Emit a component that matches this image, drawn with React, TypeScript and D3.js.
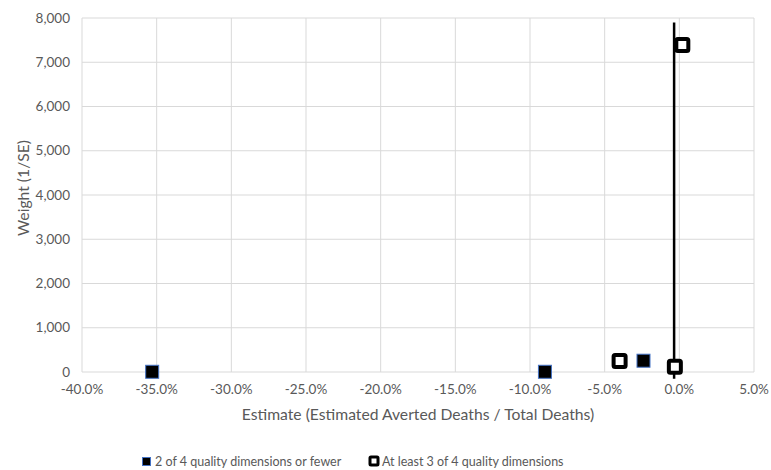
import React from "react";
import * as d3 from "d3";

const lowQualityX = [-35.3, -9.0, -2.4];
const lowQualityY = [5, 5, 255];
const highQualityX = [0.2, -4.0, -0.3];
const highQualityY = [7390, 250, 120];
const refLineX = -0.35;
const refLineY = [-150, 7900];
const xTicks = [-40, -35, -30, -25, -20, -15, -10, -5, 0, 5];
const yTicks = [0, 1000, 2000, 3000, 4000, 5000, 6000, 7000, 8000];
const seriesNames = ["2 of 4 quality dimensions or fewer", "At least 3 of 4 quality dimensions"];

export default function App() {
  const W = 771, H = 470;
  const left = 82, right = 754, top = 18, bottom = 372;
  const x = d3.scaleLinear().domain([-40, 5]).range([left, right]);
  const y = d3.scaleLinear().domain([0, 8000]).range([bottom, top]);
  const font = "Lato, 'Open Sans', sans-serif";
  const gray = "#595959";
  const fmtY = d3.format(",");
  const fmtX = (v: number) => v.toFixed(1) + "%";
  return (
    <svg width={W} height={H} style={{ position: "absolute", left: 0, top: 0, background: "#fff" }} fontFamily={font}>
      {yTicks.map((t) => (
        <line key={"gy" + t} x1={left} x2={right} y1={y(t)} y2={y(t)} stroke="#d9d9d9" strokeWidth={1} />
      ))}
      {xTicks.map((t) => (
        <line key={"gx" + t} x1={x(t)} x2={x(t)} y1={top} y2={bottom} stroke="#d9d9d9" strokeWidth={1} />
      ))}
      {yTicks.map((t) => (
        <text key={"ty" + t} x={left - 12} y={y(t)} dy="0.35em" textAnchor="end" fontSize={13.5} fill={gray}>
          {fmtY(t)}
        </text>
      ))}
      {xTicks.map((t) => (
        <text key={"tx" + t} x={x(t)} y={bottom + 22} textAnchor="middle" fontSize={13.5} fill={gray}>
          {fmtX(t)}
        </text>
      ))}
      <text x={418} y={420} textAnchor="middle" fontSize={15.7} fill={gray}>
        Estimate (Estimated Averted Deaths / Total Deaths)
      </text>
      <text transform={`translate(29,188) rotate(-90)`} textAnchor="middle" fontSize={15.7} fill={gray}>
        Weight (1/SE)
      </text>
      <line x1={x(refLineX)} x2={x(refLineX)} y1={y(refLineY[1])} y2={y(refLineY[0])} stroke="#000" strokeWidth={2.5} />
      {lowQualityX.map((v, i) => (
        <rect key={"l" + i} x={x(v) - 6.5} y={y(lowQualityY[i]) - 6.5} width={13} height={13} fill="#000" stroke="#4472c4" strokeWidth={1} />
      ))}
      {highQualityX.map((v, i) => (
        <rect key={"h" + i} x={x(v) - 6} y={y(highQualityY[i]) - 6} width={12} height={12} fill="#fff" stroke="#000" strokeWidth={4} rx={1.5} />
      ))}
      <rect x={142.5} y={457.5} width={8} height={8} fill="#000" stroke="#4472c4" strokeWidth={1} />
      <text x={155} y={466} fontSize={12.5} fill={gray}>{seriesNames[0]}</text>
      <rect x={370} y={457} width={8} height={8} fill="#fff" stroke="#000" strokeWidth={3} rx={1} />
      <text x={382} y={466} fontSize={12.5} fill={gray}>{seriesNames[1]}</text>
    </svg>
  );
}
